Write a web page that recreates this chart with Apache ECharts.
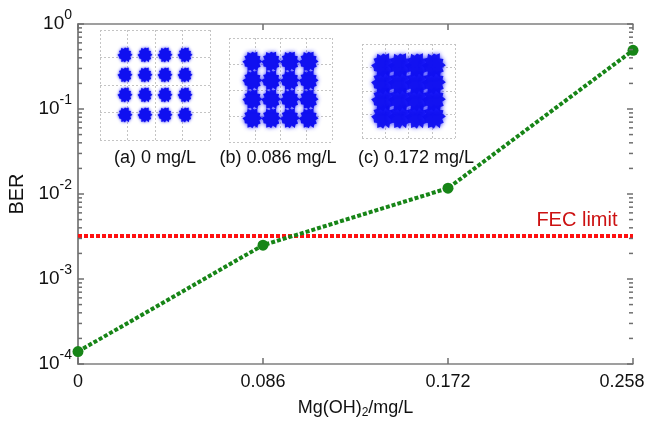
<!DOCTYPE html>
<html lang="en">
<head>
<meta charset="UTF-8">
<title>BER vs Mg(OH)2</title>
<script src="https://cdn.jsdelivr.net/npm/echarts@6/dist/echarts.min.js"></script>
<style>
  html, body { margin: 0; padding: 0; background: #fff; }
  #main { width: 653px; height: 435px; }
</style>
</head>
<body>
<div id="main"></div>
<script type="text/javascript">
// 数据
var concentration = [0, 0.086, 0.172, 0.258];
var berValues = [1.4e-4, 2.5e-3, 1.17e-2, 0.49];
var fecLimit = 3.2e-3;
var xTickLabels = ['0', '0.086', '0.172', '0.258'];
var yDecades = [-4, -3, -2, -1, 0];
var minorMultipliers = [2, 3, 4, 5, 6, 7, 8, 9];
// 16QAM 星座点电平
var qamLevels = [-3, -1, 1, 3];
var insetLabels = ['(a) 0 mg/L', '(b) 0.086 mg/L', '(c) 0.172 mg/L'];

var FONT = 'Liberation Sans';
var AXIS_COLOR = '#808080';
var TICK_COLOR = '#6e6e6e';
var GREEN = '#178517';
var X_MIN = 0, X_MAX = 0.258, Y_MIN = 1e-4, Y_MAX = 1;

var lineData = concentration.map(function (x, i) { return [x, berValues[i]]; });
var fecData = [
    [X_MIN, fecLimit],
    {
        value: [X_MAX, fecLimit],
        label: {
            show: true, formatter: 'FEC limit', position: 'left', distance: 15, offset: [0, -16],
            color: '#cc1111', fontSize: 20, fontFamily: FONT
        }
    }
];

// 刻度: [x, y, 长度]
var yTickItems = [];
yDecades.forEach(function (d) {
    yTickItems.push([X_MIN, Math.pow(10, d), 6]);
    yTickItems.push([X_MAX, Math.pow(10, d), 6]);
});
yDecades.slice(0, -1).forEach(function (d) {
    minorMultipliers.forEach(function (m) {
        yTickItems.push([X_MIN, m * Math.pow(10, d), 4]);
        yTickItems.push([X_MAX, m * Math.pow(10, d), 4]);
    });
});
var xTickItems = [];
concentration.forEach(function (x) {
    xTickItems.push([x, Y_MIN, 6]);
    xTickItems.push([x, Y_MAX, 6]);
});

var qamPoints = [];
qamLevels.forEach(function (i) {
    qamLevels.forEach(function (q) { qamPoints.push([i, q]); });
});

// 毛边的点团形状
function blobPath() {
    var r = [1, 0.72, 0.95, 0.8, 1, 0.66, 0.9, 0.78, 0.98, 0.7, 0.88, 0.82,
             1, 0.68, 0.93, 0.76, 0.97, 0.72, 0.86, 0.8, 1, 0.7, 0.92, 0.75];
    var s = 'path://';
    for (var i = 0; i < r.length; i++) {
        var a = i / r.length * Math.PI * 2;
        s += (i === 0 ? 'M' : 'L') + (50 + 50 * r[i] * Math.cos(a)).toFixed(1) + ',' +
             (50 + 50 * r[i] * Math.sin(a)).toFixed(1);
    }
    return s + 'Z';
}
var BLOB = blobPath();

var myChart = echarts.init(document.getElementById('main'), null, { renderer: 'canvas' });

// 小图网格位置
var insetGrids = [
    { left: 100, top: 30, width: 110, height: 110 },
    { left: 229, top: 38, width: 103, height: 104 },
    { left: 362, top: 44, width: 93, height: 94 }
];
var insetDot = [
    { size: 15, blur: 3, opacity: 1 },
    { size: 20, blur: 4, opacity: 1 },
    { size: 24, blur: 4, opacity: 0.95 }
];

var grids = [{ left: 78, right: 20, top: 24, bottom: 71, outerBoundsMode: 'none', containLabel: false }];
var xAxes = [
    {
        gridIndex: 0, type: 'value', min: X_MIN, max: X_MAX, interval: 0.086,
        name: '{a|Mg(OH)}{sub|2}{a|/mg/L}', nameLocation: 'middle', nameGap: 33,
        nameTextStyle: {
            rich: {
                a: { fontSize: 18, fontFamily: FONT, color: '#111' },
                sub: { fontSize: 12, fontFamily: FONT, color: '#111', padding: [10, 0, 0, 0] }
            }
        },
        axisLine: { lineStyle: { color: AXIS_COLOR, width: 1.5 } },
        axisTick: { show: false },
        axisLabel: {
            margin: 9,
            formatter: function (v) {
                var i = Math.round(v / 0.086);
                return (i === xTickLabels.length - 1 ? '{r|' : '{t|') + xTickLabels[i] + '}';
            },
            rich: {
                t: { fontSize: 18, fontFamily: FONT, color: '#111' },
                r: { fontSize: 18, fontFamily: FONT, color: '#111', padding: [0, 22, 0, 0] }
            }
        },
        splitLine: { show: false }
    },
    {
        gridIndex: 0, type: 'value', position: 'top', min: X_MIN, max: X_MAX, interval: 0.086,
        axisLine: { lineStyle: { color: AXIS_COLOR, width: 1.5 } },
        axisTick: { show: false },
        axisLabel: { show: false },
        splitLine: { show: false }
    }
];
var yAxes = [
    {
        gridIndex: 0, type: 'log', logBase: 10, min: Y_MIN, max: Y_MAX,
        name: 'BER', nameLocation: 'middle', nameGap: 33,
        nameTextStyle: { fontSize: 20, fontFamily: FONT, color: '#111' },
        axisLine: { lineStyle: { color: AXIS_COLOR, width: 1.5 } },
        axisTick: { show: false },
        axisLabel: {
            margin: 6,
            formatter: function (v) {
                var e = Math.round(Math.log(v) / Math.LN10);
                return '{b|10}{s|' + e + '}';
            },
            rich: {
                b: { fontSize: 19, fontFamily: FONT, color: '#111' },
                s: { fontSize: 14, fontFamily: FONT, color: '#111', padding: [0, 0, 18, 0] }
            }
        },
        splitLine: { show: false }
    },
    {
        gridIndex: 0, type: 'log', logBase: 10, min: Y_MIN, max: Y_MAX, position: 'right',
        axisLine: { lineStyle: { color: AXIS_COLOR, width: 1.5 } },
        axisTick: { show: false },
        axisLabel: { show: false },
        splitLine: { show: false }
    }
];

// 向内的刻度，用填充矩形画
function tickSeries(data, vertical) {
    return {
        type: 'custom',
        xAxisIndex: 0, yAxisIndex: 0,
        data: data,
        silent: true,
        clip: false,
        z: 20,
        encode: { x: 0, y: 1 },
        renderItem: function (params, api) {
            var xv = api.value(0), yv = api.value(1), len = api.value(2);
            var p = api.coord([xv, yv]);
            var shape;
            if (vertical) {
                var down = yv > 0.5; // 顶部刻度向下
                shape = { x: p[0] - 0.75, y: down ? p[1] : p[1] - len, width: 1.5, height: len };
            } else {
                var right = xv < 0.1; // 左侧刻度向右
                shape = { x: right ? p[0] : p[0] - len, y: p[1] - 0.75, width: len, height: 1.5 };
            }
            return { type: 'rect', shape: shape, style: { fill: TICK_COLOR } };
        }
    };
}

var series = [
    {
        name: 'FEC limit',
        type: 'line',
        xAxisIndex: 0, yAxisIndex: 0,
        data: fecData,
        symbol: 'circle',
        symbolSize: 1,
        showSymbol: true,
        silent: true,
        itemStyle: { color: 'rgba(0,0,0,0)' },
        lineStyle: { color: '#ff1010', width: 4, type: [4, 2] },
        z: 3
    },
    {
        name: 'BER',
        type: 'line',
        xAxisIndex: 0, yAxisIndex: 0,
        data: lineData,
        symbol: 'circle',
        symbolSize: 11,
        itemStyle: { color: GREEN },
        lineStyle: { color: GREEN, width: 4, type: [4, 2] },
        z: 5
    },
    tickSeries(yTickItems, false),
    tickSeries(xTickItems, true)
];

var graphics = [];
var labelCenters = [155, 278, 416];

insetGrids.forEach(function (g, k) {
    g.outerBoundsMode = 'none';
    grids.push(g);
    var idx = k + 1;
    var common = {
        gridIndex: idx, type: 'value', min: -5.5, max: 5.5, interval: 2.75,
        axisLine: { show: false }, axisTick: { show: false }, axisLabel: { show: false },
        splitLine: { show: true, lineStyle: { color: '#c4c4c4', type: [2, 2], width: 1 } }
    };
    xAxes.push(Object.assign({}, common));
    yAxes.push(Object.assign({}, common));
    series.push({
        type: 'scatter',
        xAxisIndex: idx + 1, yAxisIndex: idx + 1,
        data: qamPoints,
        symbol: BLOB,
        symbolSize: insetDot[k].size,
        silent: true,
        itemStyle: {
            color: '#1010f0',
            opacity: insetDot[k].opacity,
            shadowColor: 'rgba(30,30,255,0.9)',
            shadowBlur: insetDot[k].blur
        }
    });
    graphics.push({
        type: 'text',
        x: labelCenters[k], y: 158,
        style: {
            text: insetLabels[k], fontSize: 18, fontFamily: FONT, fill: '#111',
            align: 'center', verticalAlign: 'middle'
        }
    });
});

var option = {
    backgroundColor: '#fff',
    animation: false,
    grid: grids,
    xAxis: xAxes,
    yAxis: yAxes,
    series: series,
    graphic: graphics
};

myChart.setOption(option);
</script>
</body>
</html>
